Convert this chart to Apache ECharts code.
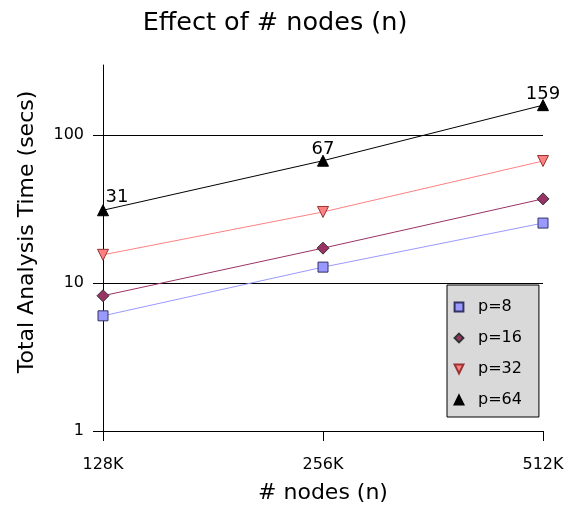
<!DOCTYPE html>
<html>
<head>
<meta charset="utf-8">
<script src="https://cdn.jsdelivr.net/npm/echarts@6/dist/echarts.min.js"></script>
<style>
  html, body { margin: 0; padding: 0; background: #fff; }
  #chart { width: 569px; height: 505px; }
</style>
</head>
<body>
<div id="chart"></div>
<script>
// node counts on the x axis
const nodes = ['128K', '256K', '512K'];
// total analysis time in seconds, one array per p
const p8 = [6.0, 12.8, 25.4];
const p16 = [8.2, 17.2, 37];
const p32 = [15.5, 30.2, 66.7];
const p64 = [31, 67, 159];
const yTicks = [1, 10, 100];

const chart = echarts.init(document.getElementById('chart'));
const font = 'DejaVu Sans';

function line(name, data, symbol, size, color, border, rotate) {
    return {
        name: name,
        type: 'line',
        data: data,
        symbol: symbol,
        legendIcon: symbol,
        symbolSize: size,
        symbolRotate: rotate || 0,
        lineStyle: { color: color, width: 1 },
        itemStyle: { color: color, borderColor: border, borderWidth: 1 },
        emphasis: { disabled: true },
        animation: false
    };
}

// p=64 gets value labels, the first one sits to the right of the axis
const s64 = line('p=64', p64.map((v, i) => i === 0 ? { value: v, label: { offset: [14, -13] } } : v),
    'triangle', 11, '#000', '#000');
s64.label = {
    show: true,
    position: 'inside',
    offset: [0, -11],
    color: '#000',
    fontFamily: font,
    fontSize: 18
};

chart.setOption({
    title: {
        text: 'Effect of # nodes (n)',
        left: 270,
        top: 5,
        textAlign: 'center',
        textStyle: { fontFamily: font, fontSize: 25.5, fontWeight: 'normal', color: '#000' }
    },
    legend: {
        orient: 'vertical',
        left: 447,
        top: 285,
        padding: [14, 17, 9, 2],
        itemGap: 15,
        itemWidth: 18,
        itemHeight: 11,
        backgroundColor: '#d9d9d9',
        borderColor: '#000',
        borderWidth: 1,
        borderRadius: 0,
        lineStyle: { color: 'rgba(0,0,0,0)', opacity: 0 },
        textStyle: { fontFamily: font, fontSize: 16, color: '#000', padding: [0, 0, 0, 5] },
        data: ['p=8', 'p=16', 'p=32', 'p=64']
    },
    grid: [
        { left: 103, right: 26, top: 65, bottom: 74, outerBoundsMode: 'none', containLabel: false },
        // 1..100 part of the same axis, only used for the tick marks (no tick at the axis top)
        { left: 103, right: 26, top: 135, bottom: 74, outerBoundsMode: 'none', containLabel: false }
    ],
    xAxis: [{
        type: 'category',
        data: nodes,
        boundaryGap: false,
        name: '# nodes (n)',
        nameLocation: 'middle',
        nameGap: 51,
        nameTextStyle: { fontFamily: font, fontSize: 22, color: '#000' },
        axisLine: { lineStyle: { color: '#000', width: 1 } },
        axisTick: { alignWithLabel: true, length: 10, lineStyle: { color: '#000' } },
        axisLabel: { fontFamily: font, fontSize: 16, color: '#000', margin: 26 },
        splitLine: { show: false }
    }, {
        gridIndex: 1,
        type: 'category',
        data: nodes,
        show: false
    }],
    yAxis: [{
        type: 'log',
        logBase: 10,
        min: 1,
        max: 297,
        name: 'Total Analysis Time (secs)',
        nameLocation: 'middle',
        nameGap: 65,
        nameTextStyle: { fontFamily: font, fontSize: 22, color: '#000', padding: [0, 0, 0, 32] },
        axisLine: { show: true, lineStyle: { color: '#000', width: 1 } },
        axisTick: { show: false },
        axisLabel: { fontFamily: font, fontSize: 16, color: '#000', margin: 19, customValues: yTicks },
        // last tick is the axis max; keep its grid line invisible
        splitLine: { show: true, lineStyle: { color: ['#000', '#000', '#000', 'rgba(0,0,0,0)'], width: 1 } }
    }, {
        gridIndex: 1,
        type: 'log',
        logBase: 10,
        min: yTicks[0],
        max: yTicks[yTicks.length - 1],
        axisLine: { show: false },
        axisTick: { show: true, inside: false, length: 10, lineStyle: { color: '#000', width: 1 } },
        axisLabel: { show: false },
        splitLine: { show: false }
    }],
    series: [
        line('p=8', p8, 'rect', 10, '#9999ff', '#333366'),
        line('p=16', p16, 'diamond', 12, '#993366', '#333333'),
        line('p=32', p32, 'triangle', 11, '#ff8080', '#993333', 180),
        s64
    ]
});
</script>
</body>
</html>
